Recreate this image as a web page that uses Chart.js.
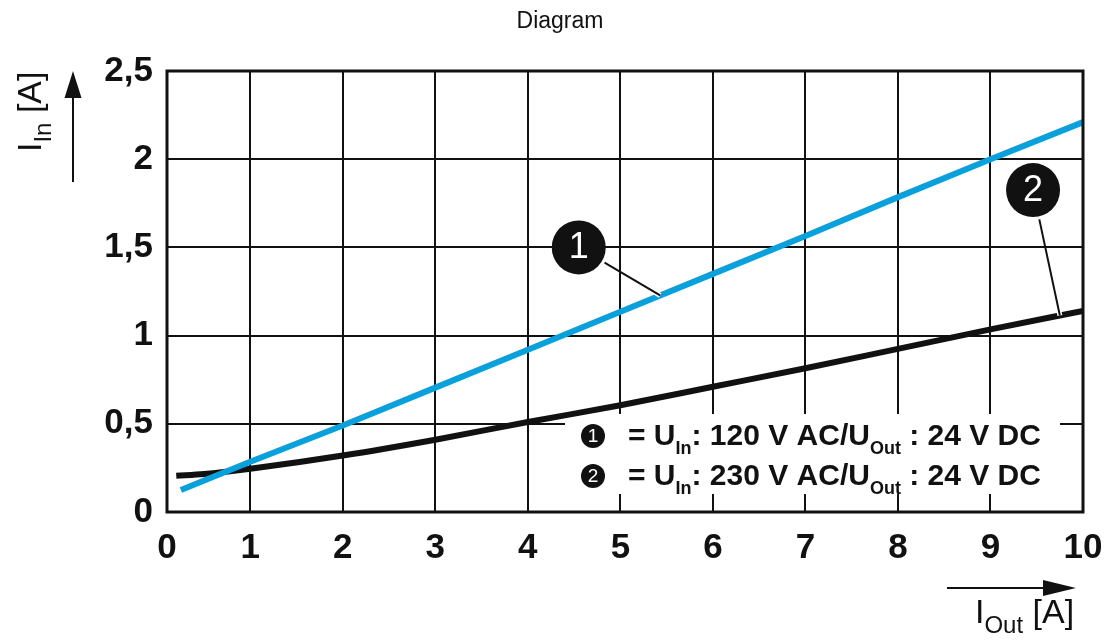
<!DOCTYPE html>
<html>
<head>
<meta charset="utf-8">
<script src="https://cdn.jsdelivr.net/npm/chart.js@4.4.1/dist/chart.umd.min.js"></script>
<style>
  body { margin: 0; background: #fff; }
  #wrap { width: 1110px; height: 643px; }
</style>
</head>
<body>
<div id="wrap"><canvas id="chart" width="1110" height="643"></canvas></div>
<script>
// values
const xTickValues = [0.1, 1, 2, 3, 4, 5, 6, 7, 8, 9, 10];
const xTickLabels = ['0', '1', '2', '3', '4', '5', '6', '7', '8', '9', '10'];
const yTickValues = [0, 0.5, 1, 1.5, 2, 2.5];
const yTickLabels = ['0', '0,5', '1', '1,5', '2', '2,5'];

// curve 1: U_In 120 V AC
const iOut1 = [0.25, 1, 2, 3, 4, 5, 6, 7, 8, 9, 10];
const iIn1 = [0.125, 0.285, 0.49, 0.705, 0.92, 1.135, 1.35, 1.565, 1.785, 2.0, 2.21];
// curve 2: U_In 230 V AC
const iOut2 = [0.2, 0.5, 1, 2, 3, 4, 5, 6, 7, 8, 9, 10];
const iIn2 = [0.205, 0.215, 0.245, 0.32, 0.41, 0.51, 0.605, 0.71, 0.815, 0.925, 1.035, 1.14];

const legendLines = [
  ['1', '120 V AC', '24 V DC'],
  ['2', '230 V AC', '24 V DC'],
];

// callout bubbles: centre (data coords) and where the leader touches the curve
const callouts = [
  { label: '1', cx: 4.55, cy: 1.5, atX: 5.43, xs: iOut1, ys: iIn1 },
  { label: '2', cx: 9.46, cy: 1.825, atX: 9.75, xs: iOut2, ys: iIn2 },
];

const BLUE = '#0aa0dc';
const FONT = "'Liberation Sans', Arial, sans-serif";

function toPoints(xs, ys) {
  return xs.map((x, i) => ({ x: x, y: ys[i] }));
}

function interp(xs, ys, x) {
  for (let i = 1; i < xs.length; i++) {
    if (x <= xs[i]) {
      const t = (x - xs[i - 1]) / (xs[i] - xs[i - 1]);
      return ys[i - 1] + t * (ys[i] - ys[i - 1]);
    }
  }
  return ys[ys.length - 1];
}

// draws text made of normal and subscript pieces, returns end x
function richText(ctx, x, y, parts, size, subSize, weight) {
  parts.forEach(p => {
    const s = p.sub ? subSize : size;
    ctx.font = weight + ' ' + s + 'px ' + FONT;
    ctx.fillText(p.t, x, p.sub ? y + Math.round(size * 0.3) : y);
    x += ctx.measureText(p.t).width;
  });
  return x;
}

function bubble(ctx, x, y, r, label, size) {
  ctx.beginPath();
  ctx.arc(x, y, r, 0, Math.PI * 2);
  ctx.fillStyle = '#111';
  ctx.fill();
  ctx.fillStyle = '#fff';
  ctx.font = size + 'px ' + FONT;
  ctx.textAlign = 'center';
  ctx.textBaseline = 'middle';
  ctx.fillText(label, x, y + 1);
}

const decorations = {
  id: 'decorations',
  beforeDraw(chart) {
    const ctx = chart.ctx;
    ctx.save();
    ctx.fillStyle = '#fff';
    ctx.fillRect(0, 0, chart.width, chart.height);
    ctx.restore();
  },
  beforeDatasetsDraw(chart) {
    // white box behind the legend text
    const ctx = chart.ctx, a = chart.chartArea;
    ctx.save();
    ctx.fillStyle = '#fff';
    ctx.fillRect(a.left + 398, a.bottom - 98, 495, 80);
    ctx.restore();
  },
  afterDatasetsDraw(chart) {
    const ctx = chart.ctx, a = chart.chartArea;
    const xs = chart.scales.x, ys = chart.scales.y;
    ctx.save();

    // frame
    ctx.strokeStyle = '#111';
    ctx.lineWidth = 3;
    ctx.strokeRect(a.left, a.top, a.right - a.left, a.bottom - a.top);

    // callouts with leader lines
    callouts.forEach(c => {
      const cx = xs.getPixelForValue(c.cx), cy = ys.getPixelForValue(c.cy);
      const ex = xs.getPixelForValue(c.atX), ey = ys.getPixelForValue(interp(c.xs, c.ys, c.atX));
      const dx = ex - cx, dy = ey - cy, len = Math.hypot(dx, dy);
      const ux = dx / len, uy = dy / len, r = 27;
      ctx.lineCap = 'butt';
      ctx.strokeStyle = '#fff';
      ctx.lineWidth = 5;
      ctx.beginPath();
      ctx.moveTo(ex - ux * 8, ey - uy * 8);
      ctx.lineTo(ex, ey);
      ctx.stroke();
      ctx.strokeStyle = '#111';
      ctx.lineWidth = 2;
      ctx.beginPath();
      ctx.moveTo(cx + ux * (r + 3), cy + uy * (r + 3));
      ctx.lineTo(ex, ey);
      ctx.stroke();
      bubble(ctx, cx, cy, r, c.label, 36);
    });

    // legend text
    legendLines.forEach((l, i) => {
      const by = a.bottom - 67 + i * 40;
      bubble(ctx, a.left + 426, by - 9, 12, l[0], 19);
      ctx.fillStyle = '#111';
      ctx.textAlign = 'left';
      ctx.textBaseline = 'alphabetic';
      richText(ctx, a.left + 461, by, [
        { t: '= U' }, { t: 'In', sub: true }, { t: ': ' + l[1] + '/U' },
        { t: 'Out', sub: true }, { t: ' : ' + l[2] }
      ], 30, 18, 'bold');
    });

    // title
    ctx.fillStyle = '#111';
    ctx.textAlign = 'center';
    ctx.textBaseline = 'middle';
    ctx.font = '23px ' + FONT;
    ctx.fillText('Diagram', 560, 22);

    // y axis title with arrow
    ctx.save();
    ctx.translate(41, 152);
    ctx.rotate(-Math.PI / 2);
    ctx.textAlign = 'left';
    ctx.textBaseline = 'alphabetic';
    richText(ctx, 0, 0, [{ t: 'I' }, { t: 'In', sub: true }, { t: ' [A]' }], 34, 24, 'normal');
    ctx.restore();
    ctx.lineWidth = 2;
    ctx.beginPath();
    ctx.moveTo(73, 182);
    ctx.lineTo(73, 95);
    ctx.stroke();
    ctx.beginPath();
    ctx.moveTo(73, 71);
    ctx.lineTo(64.5, 98);
    ctx.lineTo(81.5, 98);
    ctx.closePath();
    ctx.fill();

    // x axis title with arrow
    ctx.textAlign = 'left';
    ctx.textBaseline = 'alphabetic';
    richText(ctx, 975, 623, [{ t: 'I' }, { t: 'Out', sub: true }, { t: ' [A]' }], 34, 24, 'normal');
    ctx.beginPath();
    ctx.moveTo(947, 588);
    ctx.lineTo(1050, 588);
    ctx.stroke();
    ctx.beginPath();
    ctx.moveTo(1076, 588);
    ctx.lineTo(1043, 580);
    ctx.lineTo(1043, 596);
    ctx.closePath();
    ctx.fill();

    ctx.restore();
  }
};

const tickFont = { family: FONT, size: 35, weight: 'bold' };

new Chart(document.getElementById('chart'), {
  type: 'line',
  data: {
    datasets: [
      {
        label: 'U_In 120 V AC',
        data: toPoints(iOut1, iIn1),
        borderColor: BLUE,
        borderWidth: 6,
        pointRadius: 0,
        tension: 0,
      },
      {
        label: 'U_In 230 V AC',
        data: toPoints(iOut2, iIn2),
        borderColor: '#111',
        borderWidth: 6,
        pointRadius: 0,
        cubicInterpolationMode: 'monotone',
      },
    ],
  },
  options: {
    responsive: false,
    animation: false,
    devicePixelRatio: 1,
    layout: { padding: { top: 71, right: 27, left: 0, bottom: 0 } },
    plugins: { legend: { display: false }, tooltip: { enabled: false }, title: { display: false } },
    scales: {
      x: {
        type: 'linear',
        min: 0.1,
        max: 10,
        afterBuildTicks: s => { s.ticks = xTickValues.map(v => ({ value: v })); },
        afterFit: s => { s.height = 131; s.paddingLeft = 0; s.paddingRight = 0; },
        ticks: {
          font: tickFont,
          color: '#111',
          padding: 15,
          maxRotation: 0,
          autoSkip: false,
          callback: (v, i) => xTickLabels[i],
        },
        grid: { color: '#111', lineWidth: 2, drawTicks: false },
        border: { display: false },
      },
      y: {
        type: 'linear',
        min: 0,
        max: 2.5,
        afterBuildTicks: s => { s.ticks = yTickValues.map(v => ({ value: v })); },
        afterFit: s => { s.width = 167; s.paddingTop = 0; s.paddingBottom = 0; },
        ticks: {
          font: tickFont,
          color: '#111',
          padding: 14,
          autoSkip: false,
          callback: (v, i) => yTickLabels[i],
        },
        grid: { color: '#111', lineWidth: 2, drawTicks: false },
        border: { display: false },
      },
    },
  },
  plugins: [decorations],
});
</script>
</body>
</html>
